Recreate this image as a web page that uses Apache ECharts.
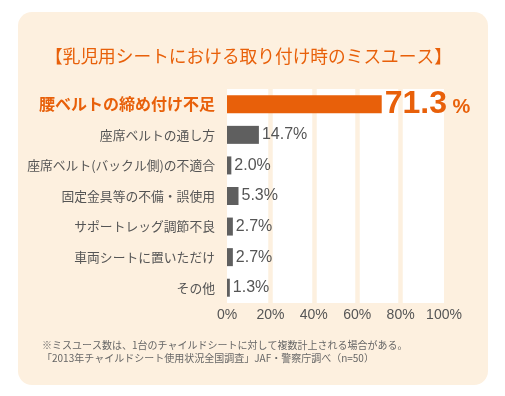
<!DOCTYPE html>
<html>
<head>
<meta charset="utf-8">
<script src="https://cdn.jsdelivr.net/npm/echarts@6/dist/echarts.min.js"></script>
<style>
html, body { margin: 0; padding: 0; background: #fff; }
#main { width: 505px; height: 396px; }
</style>
</head>
<body>
<div id="main"></div>
<script>
// data
var categories = ['腰ベルトの締め付け不足', '座席ベルトの通し方', '座席ベルト(バックル側)の不適合',
	'固定金具等の不備・誤使用', 'サポートレッグ調節不良', '車両シートに置いただけ', 'その他'];
var values = [71.3, 14.7, 2.0, 5.3, 2.7, 2.7, 1.3];
var ticks = [0, 20, 40, 60, 80, 100];
var title = '【乳児用シートにおける取り付け時のミスユース】';
var notes = ['※ミスユース数は、1台のチャイルドシートに対して複数計上される場合がある。',
	'「2013年チャイルドシート使用状況全国調査」JAF・警察庁調べ（n=50）'];

var ORANGE = '#e8600a';
var GRAY = '#5f5f5f';
var CREAM = '#fdf0df';
var JP = '"Noto Sans CJK JP", sans-serif';
var NUM = '"Liberation Sans", Arial, sans-serif';

function Chart(divId) {
	var myChart = echarts.init(document.getElementById(divId));
	var chartOption;

	function buildData() {
		var out = [];
		for (var i = 0; i < values.length; i++) {
			var item = { value: values[i] };
			if (i == 0) {
				item.itemStyle = { color: ORANGE };
				item.label = {
					formatter: '{big|' + values[i].toFixed(1) + '}{pct| %}',
					rich: {
						big: { fontSize: 32, fontWeight: 'bold', color: ORANGE, fontFamily: NUM },
						pct: { fontSize: 20, fontWeight: 'bold', color: ORANGE, fontFamily: NUM, padding: [7, 0, 0, 0] }
					}
				};
			}
			out.push(item);
		}
		return out;
	}

	function initOption() {
		chartOption = {
			animation: false,
			graphic: [{
				type: 'rect',
				z: -10,
				shape: { x: 18, y: 12, width: 470, height: 373, r: 14 },
				style: { fill: CREAM }
			}],
			title: [{
				text: title,
				left: 40,
				top: 42,
				textStyle: { color: ORANGE, fontSize: 17.7, fontWeight: 'normal', fontFamily: JP }
			}, {
				text: notes.join('\n'),
				left: 37,
				top: 334,
				textStyle: { color: '#666', fontSize: 10, fontWeight: 'normal', fontFamily: JP, lineHeight: 13 }
			}],
			grid: {
				left: 227, right: 61, top: 89, bottom: 93,
				show: true, backgroundColor: '#fff', borderWidth: 0
			},
			xAxis: {
				type: 'value',
				min: ticks[0],
				max: ticks[ticks.length - 1],
				interval: ticks[1] - ticks[0],
				axisLine: { show: false },
				axisTick: { show: false },
				axisLabel: {
					formatter: '{value}%',
					color: '#555',
					fontSize: 14,
					fontFamily: NUM,
					margin: 5
				},
				splitLine: {
					show: true,
					showMinLine: false,
					showMaxLine: false,
					lineStyle: { color: CREAM, width: 4.5 }
				}
			},
			yAxis: {
				type: 'category',
				inverse: true,
				data: categories,
				axisLine: { show: false },
				axisTick: { show: false },
				axisLabel: {
					margin: 12,
					formatter: function (v, i) {
						return i == 0 ? '{hl|' + v + '}' : '{n|' + v + '}';
					},
					rich: {
						hl: { color: ORANGE, fontSize: 16, fontWeight: 'bold', fontFamily: JP },
						n: { color: '#555', fontSize: 12.8, fontFamily: JP }
					}
				}
			},
			series: [{
				type: 'bar',
				barWidth: 18,
				data: buildData(),
				itemStyle: { color: GRAY },
				label: {
					show: true,
					position: 'right',
					distance: 3,
					color: '#555',
					fontSize: 16,
					fontFamily: NUM,
					formatter: function (p) { return p.value.toFixed(1) + '%'; }
				}
			}]
		};
	}

	this.draw = function () {
		myChart.setOption(chartOption);
	};

	initOption();
}

var chart = new Chart('main');
chart.draw();
</script>
</body>
</html>
